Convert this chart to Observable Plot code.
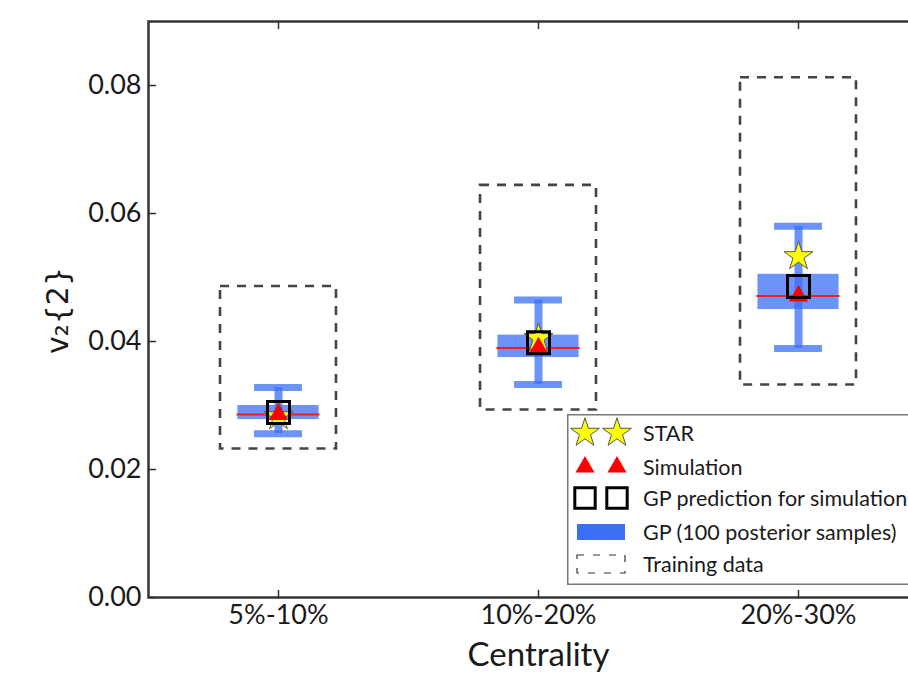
<!DOCTYPE html>
<html>
<head>
<meta charset="utf-8">
<script src="https://cdn.jsdelivr.net/npm/d3@7"></script>
<script src="https://cdn.jsdelivr.net/npm/@observablehq/plot@0.6"></script>
<style>
  html, body { margin: 0; padding: 0; background: #fff; overflow: hidden; }
  #wrap { position: relative; width: 908px; height: 675px; overflow: hidden; font-family: Lato, sans-serif; }
  #wrap > svg.plotchart { max-width: none; }
  #legend { position: absolute; left: 567px; top: 414px; }
</style>
</head>
<body>
<div id="wrap"></div>
<script>
// ---- data ----
const categories   = ["5%-10%", "10%-20%", "20%-30%"];
const starValues   = [0.0283, 0.0405, 0.0533];   // STAR
const simValues    = [0.0286, 0.0390, 0.0471];   // Simulation
const gpPredValues = [0.0289, 0.0398, 0.0486];   // GP prediction for simulation
const gpBoxLow     = [0.0278, 0.0375, 0.0450];   // GP posterior (inner band)
const gpBoxHigh    = [0.0300, 0.0410, 0.0505];
const gpMin        = [0.0256, 0.0333, 0.0389];   // GP posterior (whiskers)
const gpMax        = [0.0328, 0.0465, 0.0580];
const trainMin     = [0.0232, 0.0293, 0.0332];   // Training data range
const trainMax     = [0.0486, 0.0644, 0.0812];
const yTicks       = [0, 0.02, 0.04, 0.06, 0.08];
const legendLabels = ["STAR", "Simulation", "GP prediction for simulation", "GP (100 posterior samples)", "Training data"];

const rows = categories.map((c, i) => ({
  i, c,
  star: starValues[i], sim: simValues[i], pred: gpPredValues[i],
  lo: gpBoxLow[i], hi: gpBoxHigh[i], min: gpMin[i], max: gpMax[i],
  tmin: trainMin[i], tmax: trainMax[i]
}));

const blue = "#3b6ff5";
const trainHalf = 0.223, boxHalf = 0.156, capHalf = 0.092, lineHalf = 0.16;
const tickShape = { draw(ctx, l) { ctx.moveTo(0, 0); ctx.lineTo(0, -l); } };
const tickStyle = { length: 7, anchor: "start", shape: tickShape, stroke: "#333", strokeWidth: 1.5 };

const chart = Plot.plot({
  className: "plotchart",
  width: 928,
  height: 675,
  marginLeft: 148,
  marginRight: 0,
  marginTop: 21,
  marginBottom: 78,
  x: { type: "linear", domain: [-0.5, 2.5] },
  y: { domain: [0, 0.09] },
  style: { fontFamily: "Lato, sans-serif", color: "#1a1a1a", background: "white", maxWidth: "none" },
  marks: [
    // training data ranges
    Plot.rect(rows, { x1: d => d.i - trainHalf, x2: d => d.i + trainHalf, y1: "tmin", y2: "tmax",
      fill: "none", stroke: "#444", strokeWidth: 2.6, strokeDasharray: "9,8" }),
    // GP whiskers
    Plot.ruleX(rows, { x: "i", y1: "min", y2: "max", stroke: blue, strokeWidth: 8, strokeOpacity: 0.75 }),
    Plot.ruleY(rows, { y: "min", x1: d => d.i - capHalf, x2: d => d.i + capHalf, stroke: blue, strokeWidth: 7, strokeOpacity: 0.75 }),
    Plot.ruleY(rows, { y: "max", x1: d => d.i - capHalf, x2: d => d.i + capHalf, stroke: blue, strokeWidth: 7, strokeOpacity: 0.75 }),
    // GP inner band
    Plot.rect(rows, { x1: d => d.i - boxHalf, x2: d => d.i + boxHalf, y1: "lo", y2: "hi", fill: blue, fillOpacity: 0.75 }),
    // simulation line
    Plot.ruleY(rows, { y: "sim", x1: d => d.i - lineHalf, x2: d => d.i + lineHalf, stroke: "#ff1a1a", strokeWidth: 2 }),
    // STAR
    Plot.dot(rows, { x: "i", y: "star", symbol: "star", r: 9.1, fill: "#ffff00", stroke: "#555", strokeWidth: 1 }),
    // Simulation triangle
    Plot.dot(rows, { x: "i", y: "sim", symbol: "triangle", r: 7.1, fill: "#ff0000", stroke: "none" }),
    // GP prediction square
    Plot.dot(rows, { x: "i", y: "pred", symbol: "square", r: 12.4, fill: "none", stroke: "#000", strokeWidth: 3 }),
    // frame and inward ticks
    Plot.frame({ stroke: "#333", strokeWidth: 2.5 }),
    Plot.vector(yTicks, { y: d => d, frameAnchor: "left", rotate: 90, ...tickStyle }),
    Plot.vector(yTicks, { y: d => d, frameAnchor: "right", rotate: -90, ...tickStyle }),
    Plot.vector(rows, { x: "i", frameAnchor: "bottom", rotate: 0, ...tickStyle }),
    Plot.vector(rows, { x: "i", frameAnchor: "top", rotate: 180, ...tickStyle }),
    // axes
    Plot.axisY(yTicks, { tickSize: 0, tickPadding: 7, tickFormat: d3.format(".2f"), fontSize: 27, label: null }),
    Plot.axisX(rows.map(d => d.i), { tickSize: 0, tickPadding: 7, tickFormat: i => categories[i], fontSize: 27, label: null }),
    Plot.text(["Centrality"], { frameAnchor: "bottom", dy: 58, fontSize: 33, lineAnchor: "middle" }),
    Plot.text(["v\u2082{2}"], { frameAnchor: "left", dx: -90, dy: 1, rotate: -90, fontSize: 30, fontFamily: "DejaVu Sans",
      textAnchor: "middle", lineAnchor: "middle" })
  ]
});

const wrap = document.getElementById("wrap");
wrap.appendChild(chart);

// ---- legend overlay ----
const L = d3.select(wrap).append("svg").attr("id", "legend").attr("width", 341).attr("height", 171);
L.append("rect").attr("x", 0.75).attr("y", 0.75).attr("width", 360).attr("height", 169.5)
  .attr("fill", "#fff").attr("stroke", "#777").attr("stroke-width", 1.5);
const rowY = [19, 53, 84, 118, 150];
const mx = [18, 50];
const starPath = d3.symbol(d3.symbolStar, Math.PI * 9.1 * 9.1)();
const triPath = d3.symbol(d3.symbolTriangle, Math.PI * 7.1 * 7.1)();
const sqPath = d3.symbol(d3.symbolSquare, Math.PI * 11.5 * 11.5)();
mx.forEach(x => {
  L.append("path").attr("d", starPath).attr("transform", `translate(${x},${rowY[0]})`)
    .attr("fill", "#ffff00").attr("stroke", "#555");
  L.append("path").attr("d", triPath).attr("transform", `translate(${x},${rowY[1]})`)
    .attr("fill", "#ff0000");
  L.append("path").attr("d", sqPath).attr("transform", `translate(${x},${rowY[2]})`)
    .attr("fill", "none").attr("stroke", "#000").attr("stroke-width", 3);
});
L.append("rect").attr("x", 10).attr("y", rowY[3] - 8).attr("width", 48).attr("height", 16).attr("fill", blue);
L.append("rect").attr("x", 10).attr("y", rowY[4] - 9).attr("width", 48).attr("height", 18)
  .attr("fill", "none").attr("stroke", "#333").attr("stroke-width", 1.2).attr("stroke-dasharray", "7,9");
L.selectAll("text.lab").data(legendLabels).join("text").attr("class", "lab")
  .attr("x", 76).attr("y", (d, i) => rowY[i]).attr("dy", "0.36em")
  .attr("font-family", "Lato, sans-serif").attr("font-size", 21.5).attr("fill", "#1a1a1a")
  .text(d => d);
</script>
</body>
</html>
